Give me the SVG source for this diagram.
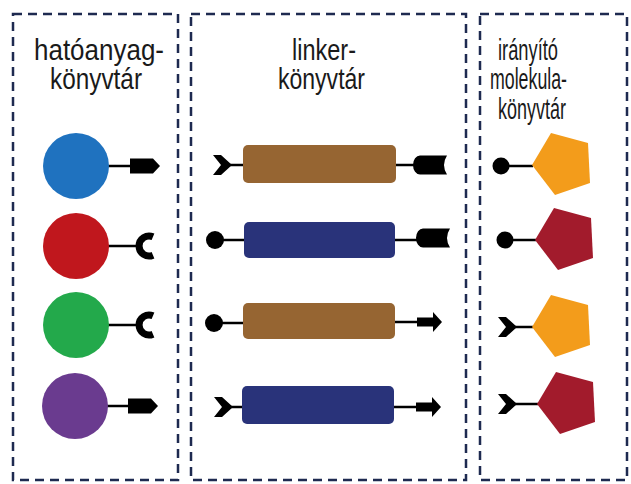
<svg xmlns="http://www.w3.org/2000/svg" width="631" height="484" viewBox="0 0 631 484">
<defs>
<style>
.box{fill:none;stroke:#1e2a50;stroke-width:2.5;stroke-dasharray:9 6}
.lbl{font-family:"Liberation Sans",Arial,sans-serif;font-size:29px;fill:#1a1a1a}
.ln{stroke:#000;stroke-width:2.5;fill:none}
.blk{fill:#000}
.cupc{fill:none;stroke:#000;stroke-width:7}
.brown{fill:#966532}
.navy{fill:#29337a}
.orange{fill:#f39c1b}
.dred{fill:#a21b2c}
</style>
<path id="tag" d="M0,-7.5 H23 L30,0 L23,7.5 H0 Z"/>
<path id="cup" d="M4,-9.2 A10,10 0 1 0 4,9.2"/>
<path id="chev" d="M0,-10 H8 L19,0 L8,10 H0 L8,0 Z"/>
<path id="sock" d="M7,-9.5 H34 Q28,0 34,9.5 H7 A7,9.5 0 0 1 7,-9.5 Z"/>
<path id="arr" d="M0,-4.5 H16 V-10 L25,0 L16,10 V4.5 H0 Z"/>
<path id="pent" d="M0,0 L19,-32 L56,-22 L58,18 L23,30 Z"/>
</defs>
<g id="frames">
<rect class="box" x="13" y="14" width="165" height="466"/>
<rect class="box" x="191" y="14" width="275" height="466"/>
<rect class="box" x="480" y="14" width="147" height="466"/>
</g>
<g id="titles">
<text class="lbl" x="34" y="60" textLength="130" lengthAdjust="spacingAndGlyphs">hatóanyag-</text>
<text class="lbl" x="50" y="89" textLength="92" lengthAdjust="spacingAndGlyphs">könyvtár</text>
<text class="lbl" x="292" y="60" textLength="64" lengthAdjust="spacingAndGlyphs">linker-</text>
<text class="lbl" x="278" y="89" textLength="87" lengthAdjust="spacingAndGlyphs">könyvtár</text>
<text class="lbl" x="498" y="60" textLength="60" lengthAdjust="spacingAndGlyphs">irányító</text>
<text class="lbl" x="490" y="89" textLength="77" lengthAdjust="spacingAndGlyphs">molekula-</text>
<text class="lbl" x="498" y="119" textLength="68" lengthAdjust="spacingAndGlyphs">könyvtár</text>
</g>
<g id="connectors">
<line class="ln" x1="105" y1="166" x2="131" y2="166"/>
<line class="ln" x1="105" y1="246" x2="138" y2="246"/>
<line class="ln" x1="105" y1="325" x2="138" y2="325"/>
<line class="ln" x1="105" y1="406" x2="129" y2="406"/>
<line class="ln" x1="230" y1="165" x2="244" y2="165"/>
<line class="ln" x1="395" y1="165" x2="415" y2="165"/>
<line class="ln" x1="215" y1="240" x2="245" y2="240"/>
<line class="ln" x1="394" y1="240" x2="418" y2="240"/>
<line class="ln" x1="214" y1="323" x2="244" y2="323"/>
<line class="ln" x1="394" y1="322" x2="418" y2="322"/>
<line class="ln" x1="230" y1="407" x2="243" y2="407"/>
<line class="ln" x1="393" y1="407" x2="417" y2="407"/>
<line class="ln" x1="501" y1="166" x2="533" y2="166"/>
<line class="ln" x1="505" y1="240" x2="536" y2="240"/>
<line class="ln" x1="515" y1="327" x2="533" y2="327"/>
<line class="ln" x1="515" y1="404" x2="538" y2="404"/>
</g>
<g id="drug1">
<circle cx="76" cy="166" r="33" fill="#1f72bf"/>
<use href="#tag" class="blk" x="130" y="166"/>
</g>
<g id="drug2">
<circle cx="76" cy="246" r="33" fill="#c0171d"/>
<use href="#cup" class="cupc" x="149" y="246"/>
</g>
<g id="drug3">
<circle cx="76" cy="325" r="33" fill="#23a94b"/>
<use href="#cup" class="cupc" x="149" y="325"/>
</g>
<g id="drug4">
<circle cx="75" cy="406" r="33" fill="#6a3b8f"/>
<use href="#tag" class="blk" x="128" y="406"/>
</g>
<g id="linker1">
<use href="#chev" class="blk" x="213" y="165"/>
<rect class="brown" x="243" y="145" width="153" height="38" rx="5"/>
<use href="#sock" class="blk" x="413" y="165"/>
</g>
<g id="linker2">
<circle cx="215" cy="240" r="9" class="blk"/>
<rect class="navy" x="244" y="222" width="151" height="36" rx="5"/>
<use href="#sock" class="blk" x="416" y="238"/>
</g>
<g id="linker3">
<circle cx="214" cy="323" r="9" class="blk"/>
<rect class="brown" x="243" y="303" width="152" height="36" rx="5"/>
<use href="#arr" class="blk" x="417" y="322"/>
</g>
<g id="linker4">
<use href="#chev" class="blk" x="214" y="407"/>
<rect class="navy" x="242" y="386" width="152" height="38" rx="5"/>
<use href="#arr" class="blk" x="416" y="407"/>
</g>
<g id="ligand1">
<circle cx="501" cy="166" r="8.5" class="blk"/>
<use href="#pent" class="orange" x="532" y="165"/>
</g>
<g id="ligand2">
<circle cx="505" cy="240" r="8.5" class="blk"/>
<use href="#pent" class="dred" x="535" y="240"/>
</g>
<g id="ligand3">
<use href="#chev" class="blk" x="498" y="327"/>
<use href="#pent" class="orange" x="532" y="327"/>
</g>
<g id="ligand4">
<use href="#chev" class="blk" x="498" y="404"/>
<use href="#pent" class="dred" x="537" y="404"/>
</g>
</svg>
